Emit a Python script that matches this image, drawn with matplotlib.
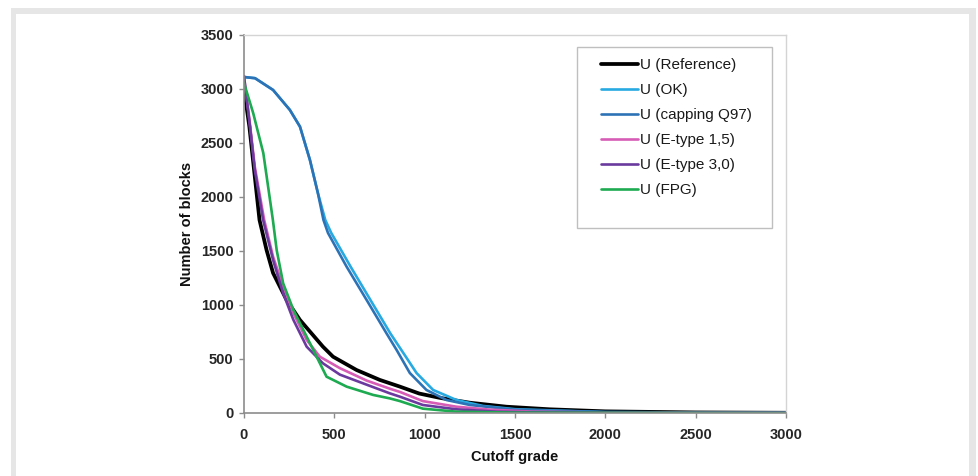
import numpy as np
import matplotlib
matplotlib.use("Agg")
import matplotlib.pyplot as plt
from matplotlib.patches import Rectangle

# cutoff grade / number of blocks
ref_x = [0, 30, 86, 125, 161, 236, 310, 437, 493, 623, 752, 863, 970, 1084, 1250, 1453, 1692, 2000, 2500, 3000]
ref_y = [3000, 2650, 1787, 1509, 1296, 1046, 861, 614, 521, 398, 306, 244, 180, 140, 95, 58, 34, 15, 5, 2]

ok_x = [0, 61, 161, 254, 310, 365, 409, 450, 483, 590, 700, 810, 900, 955, 1047, 1176, 1323, 1500, 2000, 3000]
ok_y = [3111, 3100, 2991, 2806, 2651, 2343, 2037, 1787, 1667, 1355, 1046, 737, 510, 370, 213, 120, 65, 35, 8, 2]

cap_x = [0, 61, 161, 254, 310, 365, 409, 440, 465, 568, 679, 789, 845, 918, 1010, 1121, 1250, 1500, 2000, 3000]
cap_y = [3111, 3100, 2991, 2806, 2651, 2343, 2037, 1787, 1667, 1355, 1046, 737, 583, 370, 213, 120, 74, 30, 8, 2]

e15_x = [0, 30, 60, 112, 161, 217, 273, 347, 420, 531, 679, 807, 863, 990, 1176, 1360, 1600, 2000, 3000]
e15_y = [3115, 2720, 2280, 1787, 1448, 1170, 926, 676, 521, 415, 300, 225, 195, 110, 58, 31, 12, 4, 1]

e30_x = [0, 30, 60, 106, 161, 217, 273, 347, 437, 531, 679, 807, 863, 990, 1176, 1400, 1700, 3000]
e30_y = [3120, 2700, 2250, 1787, 1417, 1108, 864, 614, 460, 355, 262, 182, 151, 74, 34, 12, 4, 1]

fpg_x = [0, 51, 107, 160, 181, 217, 273, 347, 411, 457, 568, 715, 807, 863, 990, 1176, 1500, 3000]
fpg_y = [3056, 2777, 2407, 1787, 1509, 1200, 957, 707, 491, 336, 244, 167, 135, 110, 40, 12, 3, 0]

labels = ['U (Reference)', 'U (OK)', 'U (capping Q97)', 'U (E-type 1,5)', 'U (E-type 3,0)', 'U (FPG)']
colors = ['#000000', '#27A9E1', '#2E72B6', '#D65CB5', '#6B3A9E', '#1DAA50']
widths = [2.7, 1.9, 1.9, 1.9, 1.9, 1.9]

plt.rcParams['font.family'] = ['Liberation Sans', 'DejaVu Sans']

fig = plt.figure(figsize=(9.79, 4.76), dpi=100)

# light grey frame around the picture
frame_col = '#E6E6E6'
fig.patches.append(Rectangle((0.0112, 0.9706), 0.9857, 0.0126, transform=fig.transFigure,
                             facecolor=frame_col, edgecolor='none'))
fig.patches.append(Rectangle((0.0112, 0.0), 0.0052, 0.983, transform=fig.transFigure,
                             facecolor=frame_col, edgecolor='none'))
fig.patches.append(Rectangle((0.9898, 0.0), 0.0071, 0.983, transform=fig.transFigure,
                             facecolor=frame_col, edgecolor='none'))

ax = fig.add_axes([0.2492, 0.1324, 0.5537, 0.7941])

series = [(ref_x, ref_y), (ok_x, ok_y), (cap_x, cap_y), (e15_x, e15_y), (e30_x, e30_y), (fpg_x, fpg_y)]
for (xs, ys), lab, c, w in zip(series, labels, colors, widths):
    ax.plot(xs, ys, color=c, lw=w, label=lab, solid_capstyle='round', solid_joinstyle='round')

ax.set_xlim(0, 3000)
ax.set_ylim(0, 3500)
ax.set_xticks(np.arange(0, 3001, 500))
ax.set_yticks(np.arange(0, 3501, 500))

for s in ['left', 'bottom']:
    ax.spines[s].set_color('#8C8C8C')
    ax.spines[s].set_linewidth(1.2)
for s in ['top', 'right']:
    ax.spines[s].set_color('#D4D4D4')
    ax.spines[s].set_linewidth(1.0)

ax.tick_params(axis='both', direction='out', length=3.5, width=1.0, color='#8C8C8C',
               labelsize=10.5, labelcolor='#262626')
ax.tick_params(axis='x', top=False, pad=7)
ax.tick_params(axis='y', right=False, pad=4)
for t in ax.get_xticklabels() + ax.get_yticklabels():
    t.set_fontweight('bold')

ax.set_xlabel('Cutoff grade', fontsize=10.5, fontweight='bold', color='#111111', labelpad=6)
ax.set_ylabel('Number of blocks', fontsize=10.5, fontweight='bold', color='#111111', labelpad=5)

# legend box drawn as its own rectangle, entries placed inside
ax.add_patch(Rectangle((0.614, 0.489), 0.36, 0.479, transform=ax.transAxes,
                       facecolor='white', edgecolor='#BFBFBF', lw=1.0, zorder=4))
leg = ax.legend(loc='upper left', bbox_to_anchor=(0.658, 0.939), frameon=False,
                fontsize=11, handlelength=2.45, handletextpad=0.1, labelspacing=0.72,
                borderpad=0.0, borderaxespad=0.0)
leg.set_zorder(5)
for t in leg.get_texts():
    t.set_color('#1A1A1A')

fig.savefig('out.png', dpi=100)
